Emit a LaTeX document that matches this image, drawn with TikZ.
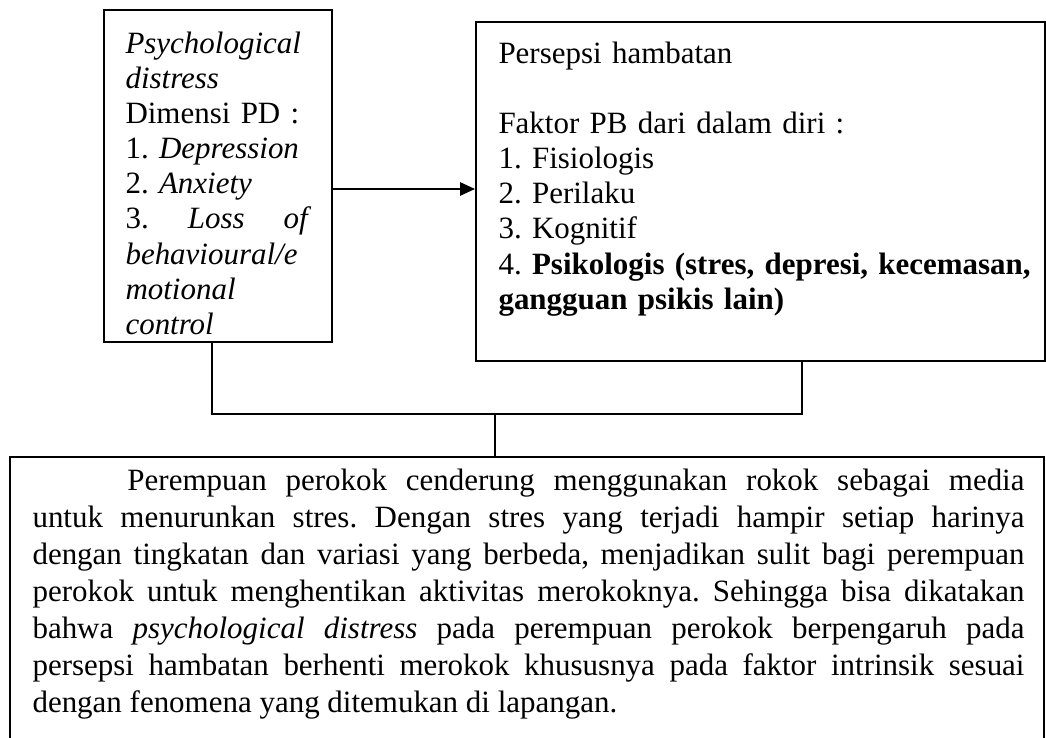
\documentclass[tikz,border=0pt]{standalone}
\usepackage{fontspec}
\setmainfont{Liberation Serif}
\usetikzlibrary{arrows.meta,fit}
\frenchspacing

\tikzset{
  boxframe/.style={draw, line width=0.8pt, inner sep=0pt},
  boxtext/.style={inner sep=0pt, anchor=north west, font=\fontsize{12}{13.6}\selectfont, execute at begin node=\strut},
  joinline/.style={line width=0.8pt},
}

\begin{document}
\begin{tikzpicture}[x=0.3875pt,y=0.3875pt,yscale=-1,xscale=1]
        \useasboundingbox (0,0) rectangle (1046,738);
        \clip (0,0) rectangle (1046,738);

        %Shape: Rectangle [psychological distress]
        \node [boxframe, fit={(104,10) (332,342)}] (pd) {};
        %Shape: Rectangle [persepsi hambatan]
        \node [boxframe, fit={(476,22) (1045,361)}] (ph) {};
        %Shape: Rectangle [kesimpulan, bottom edge below the page]
        \node [boxframe, fit={(10,457) (1044,760)}] (ks) {};

        % Text Node
        \node [boxtext, text width=72pt, align=left] (pdtext) at (125,28.4) {\textit{Psychological}\\
          \textit{distress}\\
          Dimensi PD :\\
          1. \textit{Depression}\\
          2. \textit{Anxiety}\\
          3.\hfill\textit{Loss}\hfill\textit{of}\\
          \textit{behavioural/e}\\
          \textit{motional}\\
          \textit{control}};
        % Text Node
        \node [boxtext, text width=212pt, align=left] (phtext) at (498,38.4) {Persepsi hambatan\\[13.6pt]
          Faktor PB dari dalam diri :\\
          1. Fisiologis\\
          2. Perilaku\\
          3. Kognitif\\
          4. \textbf{Psikologis (stres, depresi, kecemasan,}\\
          \textbf{gangguan psikis lain)}};
        % Text Node
        \node [boxtext, font=\fontsize{12}{14.34}\selectfont, text width=384.4pt, align=justify] (kstext) at (32,464) {\tolerance=9999\hspace*{36.8pt}Perempuan perokok cenderung menggunakan rokok sebagai media\linebreak
          untuk menurunkan stres. Dengan stres yang terjadi hampir setiap harinya\linebreak
          dengan tingkatan dan variasi yang berbeda, menjadikan sulit bagi perempuan\linebreak
          perokok untuk menghentikan aktivitas merokoknya. Sehingga bisa dikatakan\linebreak
          bahwa \textit{psychological distress} pada perempuan perokok berpengaruh pada\linebreak
          persepsi hambatan berhenti merokok khususnya pada faktor intrinsik sesuai\linebreak
          dengan fenomena yang ditemukan di lapangan.};

        % Connectors
        \coordinate (arr) at (332,189);
        \coordinate (jl) at (212,414);
        \coordinate (jr) at (802,414);
        \coordinate (jm) at (495,414);
        \draw [line width=0.6pt, -{Triangle[length=5.8pt,width=5.2pt]}] (pd.east |- arr) -- (ph.west |- arr);
        \draw [joinline] (pd.south -| jl) -- (jl) -- (jr) -- (ph.south -| jr);
        \draw [joinline] (jm) -- (ks.north -| jm);

\end{tikzpicture}
\end{document}
